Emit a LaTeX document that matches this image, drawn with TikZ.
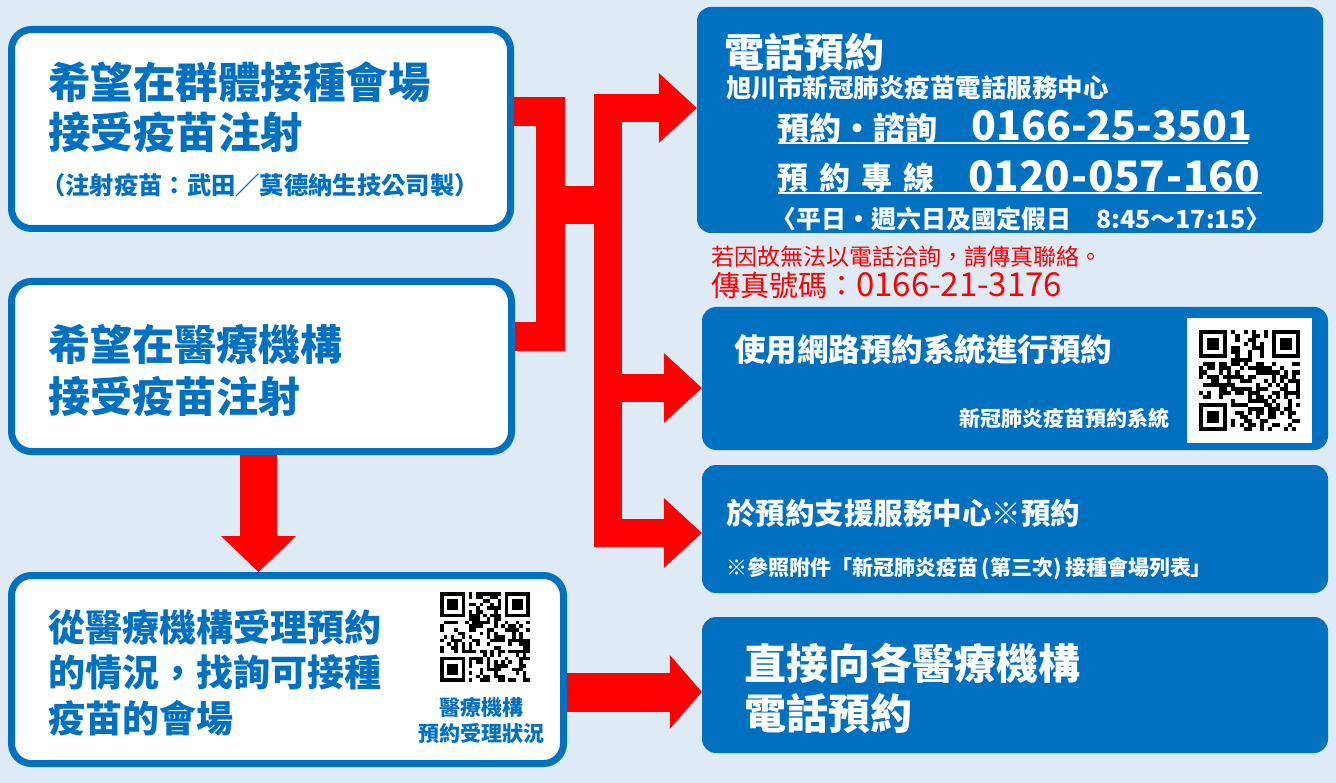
\documentclass[tikz,border=0pt]{standalone}
\usepackage{fontspec}
\setmainfont{Noto Sans CJK TC}
\usetikzlibrary{arrows.meta,positioning,calc}

\definecolor{vacblue}{HTML}{0070C0}
\definecolor{vacbg}{HTML}{DEEBF7}
\definecolor{vacred}{HTML}{FF0000}

% pseudo QR code, 25x25 modules
\newcommand{\qrmodules}[1]{%
  \pgfmathsetseed{#1}%
  \foreach \fx/\fy in {0/0,18/0,0/18}{%
    \fill[black] (\fx,\fy) rectangle ++(7,7);
    \fill[white] (\fx+1,\fy+1) rectangle ++(5,5);
    \fill[black] (\fx+2,\fy+2) rectangle ++(3,3);
  }%
  \foreach \i in {0,...,24}{%
    \foreach \j in {0,...,24}{%
      \pgfmathtruncatemacro\keep{((\i<8 && \j<8) || (\i>16 && \j<8) || (\i<8 && \j>16)) ? 0 : (rnd>0.5 ? 1 : 0)}%
      \ifnum\keep=1 \fill[black] (\i,\j) rectangle ++(1,1);\fi
    }%
  }%
}

\begin{document}
\begin{tikzpicture}[x=1pt,y=-1pt,
    leftbox/.style={draw=vacblue,line width=7pt,fill=white,rounded corners=20pt,inner sep=0pt},
    rightbox/.style={fill=vacblue,rounded corners=14pt,inner sep=0pt},
    bluetext/.style 2 args={text=vacblue,font=\bfseries\fontsize{#1}{#2}\selectfont,anchor=west,inner sep=0pt,align=left},
    whitetext/.style 2 args={text=white,font=\bfseries\fontsize{#1}{#2}\selectfont,anchor=west,inner sep=0pt,align=left},
    redtext/.style 2 args={text=vacred,font=\fontsize{#1}{#2}\selectfont,anchor=west,inner sep=0pt},
    redbar/.style={draw=vacred,line width=29pt},
    redarrow/.style={draw=vacred,line width=28pt,-{Triangle[width=70pt,length=38pt,line width=0pt 0 0]}}]

    \useasboundingbox (0,0) rectangle (1336,783);
    \fill[vacbg] (0,0) rectangle (1336,783);

    %Cadres gauche
    \node[leftbox,minimum width=499pt,minimum height=199pt] (group) at (261,129) {};
    \node[leftbox,minimum width=500pt,minimum height=170pt] (clinic) at (261.5,366.5) {};
    \node[leftbox,minimum width=552pt,minimum height=188pt] (search) at (287.5,669.5) {};

    %Cadres droite
    \node[rightbox,minimum width=626pt,minimum height=226pt] (phone) at (1010,120) {};
    \node[rightbox,minimum width=626pt,minimum height=143pt] (web) at (1015,378.5) {};
    \node[rightbox,minimum width=626pt,minimum height=128pt] (support) at (1015,529) {};
    \node[rightbox,minimum width=626pt,minimum height=136pt] (direct) at (1015,685) {};

    %Textes gauche
    \node[bluetext={42.5}{50}] (groupTitle) at (48,107) {希望在群體接種會場\\接受疫苗注射};
    \node[bluetext={24.3}{28}] (groupNote) at (41,185) {（注射疫苗：武田／莫德納生技公司製）};
    \node[bluetext={42}{52}] (clinicTitle) at (48,371) {希望在醫療機構\\接受疫苗注射};
    \node[bluetext={37}{45.5}] (searchTitle) at (48,672.5) {從醫療機構受理預約\\的情況，找詢可接種\\疫苗的會場};
    \begin{scope}[shift={(440,592)},x=3.6pt,y=-3.6pt]
      \qrmodules{11}
    \end{scope}
    \node[bluetext={21}{26},anchor=center,align=center] (qrCaption) at (481,720) {醫療機構\\預約受理狀況};

    %Textes telephone
    \node[whitetext={40}{48}] (phoneTitle) at (724,52) {電話預約};
    \node[whitetext={25.5}{30}] (callCenter) at (726,88) {旭川市新冠肺炎疫苗電話服務中心};
    \node[whitetext={32}{36}] (askLabel) at (777,128) {預約・諮詢};
    \node[whitetext={41}{48}] (askNumber) at (971,126) {0166-25-3501};
    \node[whitetext={31}{36}] (lineLabel) at (777,178) {預\hspace{11pt}約\hspace{11pt}專\hspace{11pt}線};
    \node[whitetext={42}{48}] (lineNumber) at (968,176) {0120\hspace{1pt}-\hspace{1pt}057\hspace{1pt}-\hspace{1pt}160};
    \draw[white,line width=2.5pt] (778,143) -- (1248,143);
    \draw[white,line width=2.5pt] (778,193) -- (1262,193);
    \node[whitetext={25}{28}] (hours) at (771,219) {〈平日・週六日及國定假日　8:45〜17:15〉};

    %Fax
    \node[redtext={23}{28}] (faxNote) at (711,257) {若因故無法以電話洽詢，請傳真聯絡。};
    \node[redtext={29}{34}] (faxNumber) at (711,285) {傳真號碼：{\fontsize{33}{34}\selectfont 0166-21-3176}};

    %Textes web / centre / direct
    \node[whitetext={31.5}{36}] (webTitle) at (734,349) {使用網路預約系統進行預約};
    \node[whitetext={21}{25},anchor=east] (webCaption) at (1170,418) {新冠肺炎疫苗預約系統};
    \node[fill=white,minimum width=125pt,minimum height=125pt,inner sep=0pt] (webQR) at (1249.5,380.5) {};
    \begin{scope}[shift={(1199,330)},x=4.05pt,y=-4.05pt]
      \qrmodules{5}
    \end{scope}
    \node[whitetext={29.5}{34}] (supportTitle) at (726,513) {於預約支援服務中心※預約};
    \node[whitetext={21}{25}] (supportNote) at (726,569) {※參照附件「新冠肺炎疫苗\,(第三次)\,接種會場列表」};
    \node[whitetext={42}{50}] (directTitle) at (744,688) {直接向各醫療機構\\電話預約};

    %Fleches
    \coordinate (bar) at (550.5,205);
    \coordinate (fork) at (608,205);
    \draw[redbar] ([yshift=17pt]group.east) -| (bar) |- ([yshift=30pt]clinic.east);
    \draw[redbar,line width=38pt] (bar) -- (fork);
    \draw[redarrow] (fork) |- ([yshift=12pt]phone.west);
    \draw[redarrow] (fork) |- ([yshift=-9.5pt]web.west);
    \draw[redarrow] (fork) |- ([yshift=-4pt]support.west);
    \draw[redarrow,line width=37pt,-{Triangle[width=75pt,length=36pt,line width=0pt 0 0]}] ([xshift=-3pt]clinic.south) -- ([xshift=-29pt]search.north);
    \draw[redarrow,line width=39pt,-{Triangle[width=74pt,length=32pt,line width=0pt 0 0]}] ([yshift=-22.5pt]search.east) -- ([yshift=-7pt]direct.west);

\end{tikzpicture}
\end{document}
